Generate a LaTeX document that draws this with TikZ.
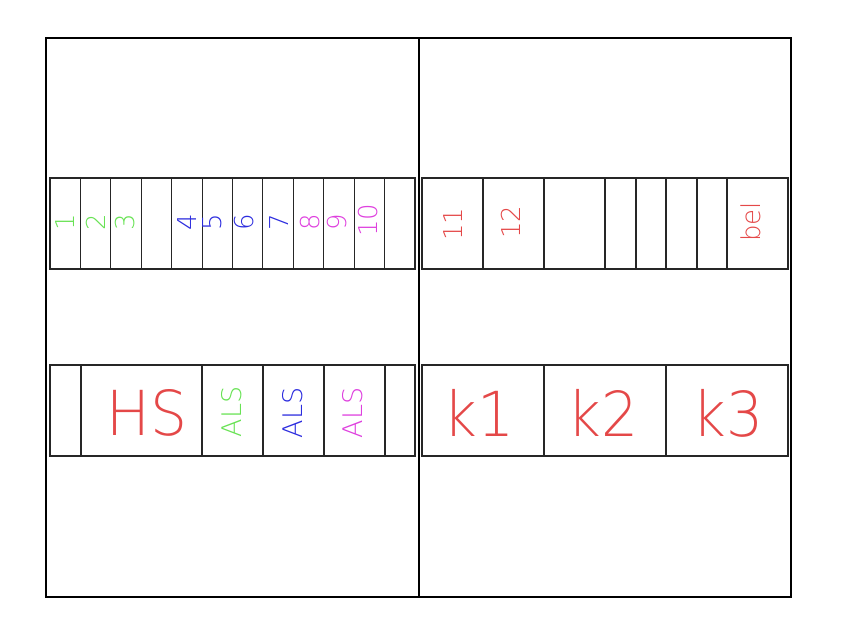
\documentclass[tikz,border=0pt]{standalone}
\usepackage{fontspec}
\setmainfont{DejaVu Sans}[UprightFont=* ExtraLight]
\definecolor{cred}{RGB}{228,72,72}
\definecolor{cgreen}{RGB}{104,226,84}
\definecolor{cblue}{RGB}{44,44,222}
\definecolor{cmag}{RGB}{222,64,222}
\tikzset{
  frame/.style={line width=1.2pt,black},
  cell/.style={line width=1.1pt,black!85},
  small/.style={rotate=90,inner sep=0pt,font=\fontsize{26}{26}\selectfont},
  mid/.style={rotate=90,inner sep=0pt,font=\fontsize{27}{27}\selectfont},
  big/.style={inner sep=0pt,xscale=0.94,font=\fontsize{62}{62}\selectfont}
}
\begin{document}
\begin{tikzpicture}[x=1pt,y=-1pt]
    \useasboundingbox (0,0) rectangle (848,622);
    % outer frame and middle wall
    \draw[frame] (46,38) rectangle (791,597);
    \draw[frame] (419,38) -- (419,597);
    % upper rail, left
    \foreach \a in {0,...,11}
        \draw[cell] (50+30.42*\a,178) rectangle (80.42+30.42*\a,269);
    % upper rail, right
    \foreach \a/\b in {422/483,483/544,544/605,605/636,636/666,666/697,697/727,727/788}
        \draw[cell] (\a,178) rectangle (\b,269);
    % lower rail, left
    \foreach \a/\b in {50/81,81/202,202/263,263/324,324/385,385/415}
        \draw[cell] (\a,365) rectangle (\b,456);
    % lower rail, right
    \foreach \a/\b in {422/544,544/666,666/788}
        \draw[cell] (\a,365) rectangle (\b,456);
    % numbers
    \node[small,text=cgreen] (n1) at (65,222) {1};
    \node[small,text=cgreen] (n2) at (96,222) {2};
    \node[small,text=cgreen] (n3) at (125,222) {3};
    \node[small,text=cblue] (n4) at (187,222) {4};
    \node[small,text=cblue] (n5) at (212,222) {5};
    \node[small,text=cblue] (n6) at (244,222) {6};
    \node[small,text=cblue] (n7) at (279,222) {7};
    \node[small,text=cmag] (n8) at (310,222) {8};
    \node[small,text=cmag] (n9) at (337,222) {9};
    \node[small,text=cmag] (n10) at (368,220) {10};
    \node[small,text=cred] (n11) at (453,224) {11};
    \node[small,text=cred] (n12) at (511,222) {12};
    \node[small,text=cred] (bel) at (751,222) {bel};
    % lower labels
    \node[big,text=cred] (hs) at (147,413) {HS};
    \node[mid,text=cgreen] (als1) at (232,412) {ALS};
    \node[mid,text=cblue] (als2) at (293,413) {ALS};
    \node[mid,text=cmag] (als3) at (353,413) {ALS};
    \node[big,text=cred] (k1) at (479,413) {k1};
    \node[big,text=cred] (k2) at (603,413) {k2};
    \node[big,text=cred] (k3) at (728,413) {k3};
\end{tikzpicture}
\end{document}
